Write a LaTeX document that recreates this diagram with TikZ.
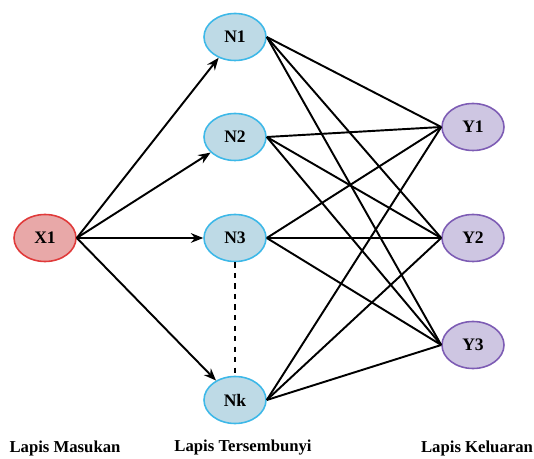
\documentclass[tikz,border=0pt]{standalone}
\usepackage{fontspec}
\setmainfont{Liberation Serif}
\usetikzlibrary{shapes.geometric,arrows.meta}
\definecolor{inred}{HTML}{E8A8A8}
\definecolor{inredline}{HTML}{E03A3A}
\definecolor{hidblue}{HTML}{BEDAE6}
\definecolor{hidblueline}{HTML}{3DB8E8}
\definecolor{outviolet}{HTML}{CEC6E2}
\definecolor{outvioletline}{HTML}{7D5CB4}
\begin{document}
\begin{tikzpicture}[
	neuron/.style={ellipse, minimum width=1.24cm, minimum height=0.94cm, inner sep=0pt, line width=0.9pt, font=\fontsize{10}{12}\selectfont\bfseries},
	innode/.style={neuron, draw=inredline, fill=inred},
	hidnode/.style={neuron, draw=hidblueline, fill=hidblue},
	outnode/.style={neuron, draw=outvioletline, fill=outviolet},
	link/.style={line width=1.1pt},
	layername/.style={font=\fontsize{9.5}{11}\selectfont\bfseries}]

	\useasboundingbox (0,0) rectangle (10.68,9.18);

	% input layer
	\node [innode] (x1) at (0.9,4.42) {X1};

	% hidden layer
	\node [hidnode] (n1) at (4.7,8.44) {N1};
	\node [hidnode] (n2) at (4.7,6.44) {N2};
	\node [hidnode] (n3) at (4.7,4.42) {N3};
	\node [hidnode] (nk) at (4.7,1.18) {Nk};

	% output layer
	\node [outnode] (y1) at (9.46,6.64) {Y1};
	\node [outnode] (y2) at (9.46,4.42) {Y2};
	\node [outnode] (y3) at (9.46,2.28) {Y3};

	% input to hidden
	\foreach \h in {n1,n2,n3,nk}
		\draw [link, -{Stealth[length=7pt,width=5.5pt]}] (x1.east) -- (\h);

	\draw [link, dashed] (n3.south) -- (nk.north);

	% hidden to output
	\foreach \h in {n1,n2,n3,nk}
		\foreach \o in {y1,y2,y3}
			\draw [link] (\h.east) -- (\o.west);

	% layer names
	\node [layername] (lin)  at (1.3,0.22)  {Lapis Masukan};
	\node [layername] (lhid) at (4.86,0.22) {Lapis Tersembunyi};
	\node [layername] (lout) at (9.54,0.22) {Lapis Keluaran};

\end{tikzpicture}
\end{document}
